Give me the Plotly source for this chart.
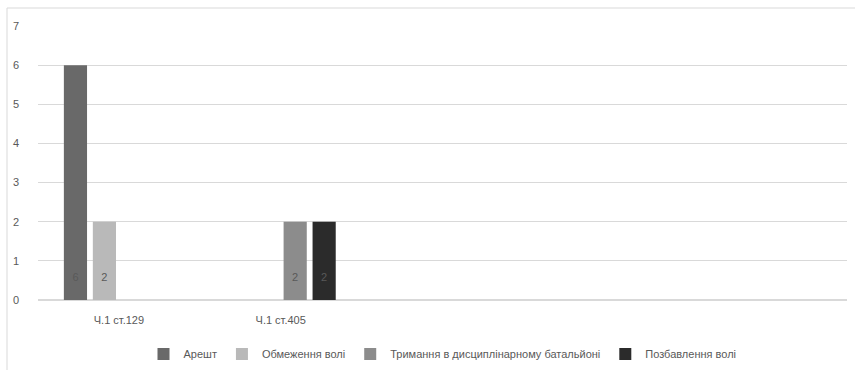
import plotly.graph_objects as go

# Categories (the last three slots are left empty on the axis)
categories = ["Ч.1 ст.129", "Ч.1 ст.405", " ", "  ", "   "]

series_names = ["Арешт", "Обмеження волі", "Тримання в дисциплінарному батальйоні", "Позбавлення волі"]
arrest = [6, None, None, None, None]
restriction = [2, None, None, None, None]
disciplinary = [None, 2, None, None, None]
imprisonment = [None, 2, None, None, None]
series_values = [arrest, restriction, disciplinary, imprisonment]
colors = ["#696969", "#b9b9b9", "#8c8c8c", "#2b2b2b"]

W, H = 855, 370
ml, mr, mt, mb = 38, 8, 26, 70

fig = go.Figure()
for name, vals, col in zip(series_names, series_values, colors):
    fig.add_trace(go.Bar(
        name=name, x=categories, y=vals, marker_color=col,
        marker_line_width=0,
        # value label sits a little above the bar base (blank second line as padding)
        texttemplate="%{y}<br> ",
        textposition="inside", insidetextanchor="start",
        textangle=0,
        textfont=dict(color="#595959", size=11, family="Liberation Sans"),
        cliponaxis=False,
    ))

pw = W - ml - mr
ph = H - mt - mb

fig.update_layout(
    width=W, height=H,
    margin=dict(l=ml, r=mr, t=mt, b=mb, autoexpand=False),
    paper_bgcolor="white", plot_bgcolor="white",
    barmode="group", bargap=0.284, bargroupgap=0.2,
    font=dict(family="Liberation Sans", size=11, color="#595959"),
    showlegend=True,
    legend=dict(orientation="h", x=0.5, xanchor="center",
                y=-54 / ph, yanchor="middle",
                font=dict(size=11, color="#595959"),
                itemwidth=30, traceorder="normal"),
    xaxis=dict(showgrid=False, showline=False, ticks="", automargin=False,
               ticklabelstandoff=12,
               tickfont=dict(size=11, color="#595959")),
    yaxis=dict(range=[0, 7], dtick=1, showgrid=True, gridcolor="#d9d9d9",
               gridwidth=1, zeroline=True, zerolinecolor="#d9d9d9",
               showline=False, ticks="", ticklabelstandoff=18, automargin=False,
               tickfont=dict(size=11, color="#595959")),
    uniformtext=dict(minsize=8, mode="show"),
)

# Chart-area border (top and left edges visible)
x0 = (7 - ml) / pw
y_top = 1 + (mt - 8) / ph
fig.add_shape(type="line", xref="paper", yref="paper",
              x0=x0, x1=(W - ml) / pw, y0=y_top, y1=y_top,
              line=dict(color="#d9d9d9", width=1))
fig.add_shape(type="line", xref="paper", yref="paper",
              x0=x0, x1=x0, y0=y_top, y1=-(mb + 2) / ph,
              line=dict(color="#d9d9d9", width=1))

fig.write_html("out.html")
